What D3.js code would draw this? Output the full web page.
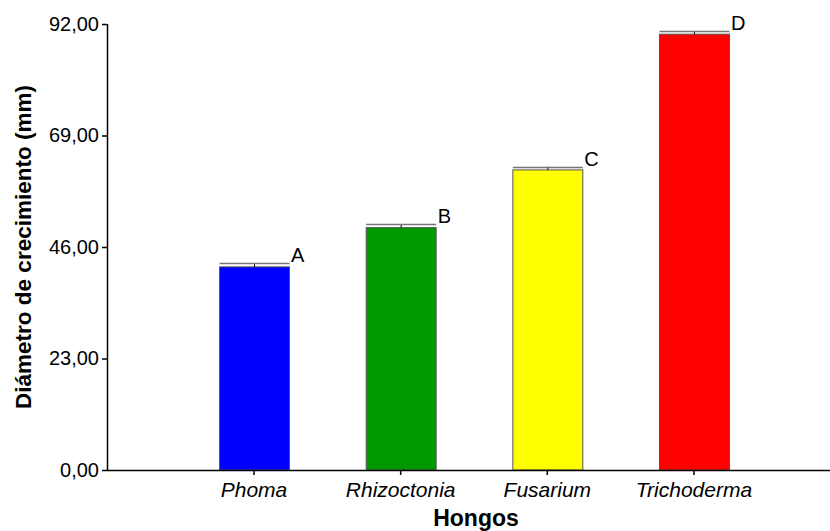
<!DOCTYPE html>
<html>
<head>
<meta charset="utf-8">
<title>Hongos</title>
<style>
  body { margin: 0; background: #fff; }
  text { font-family: "Liberation Sans", Arial, sans-serif; }
</style>
</head>
<body>
<div id="plot"></div>
<script src="https://cdn.jsdelivr.net/npm/d3@7"></script>
<script>
    // datos
    let hongos = ['Phoma', 'Rhizoctonia', 'Fusarium', 'Trichoderma'];
    let medias = [41.9, 50.0, 61.9, 89.9];
    let errores = [0.7, 0.7, 0.7, 0.6];
    let letras = ['A', 'B', 'C', 'D'];
    let colores = ['#0000ff', '#009900', '#ffff00', '#ff0000'];
    let yTicks = [0, 23, 46, 69, 92];

    let svgWidth = 830;
    let svgHeight = 531;
    let margin = {top: 24, right: 0, bottom: 61, left: 107};
    let height = svgHeight - margin.top - margin.bottom;

    function translate(x, y) {
      return 'translate(' + x + ',' + y + ')';
    }

    let svg = d3.select('#plot')
      .append('svg')
        .attr('width', svgWidth)
        .attr('height', svgHeight)
      .append('g')
        .attr('transform', translate(margin.left, margin.top));

    let x = d3.scaleBand()
      .domain(hongos)
      .range([0, 734])
      .paddingInner(0.523)
      .paddingOuter(0.764);

    let y = d3.scaleLinear()
      .domain([0, 92])
      .range([height, 0]);

    let fmt = d => d.toFixed(2).replace('.', ',');

    // barras
    svg.selectAll('rect.bar')
      .data(hongos)
      .enter()
        .append('rect')
        .attr('class', 'bar')
        .attr('x', d => x(d) + 0.5)
        .attr('width', x.bandwidth())
        .attr('y', (d, i) => y(medias[i]))
        .attr('height', (d, i) => height - y(medias[i]))
        .style('fill', (d, i) => colores[i])
        .style('stroke', '#555')
        .style('stroke-width', 1);

    // barras de error
    svg.selectAll('line.err')
      .data(hongos)
      .enter()
        .append('line')
        .attr('class', 'err')
        .attr('x1', d => x(d) + x.bandwidth() / 2 + 0.5)
        .attr('x2', d => x(d) + x.bandwidth() / 2 + 0.5)
        .attr('y1', (d, i) => y(medias[i]))
        .attr('y2', (d, i) => y(medias[i] + errores[i]))
        .style('stroke', '#000');

    svg.selectAll('line.cap')
      .data(hongos)
      .enter()
        .append('line')
        .attr('class', 'cap')
        .attr('x1', d => x(d) + 0.5)
        .attr('x2', d => x(d) + x.bandwidth() + 0.5)
        .attr('y1', (d, i) => Math.round(y(medias[i] + errores[i])) + 0.5)
        .attr('y2', (d, i) => Math.round(y(medias[i] + errores[i])) + 0.5)
        .style('stroke', '#777')
        .style('stroke-width', 1.5);

    // letras de significancia
    svg.selectAll('text.letra')
      .data(hongos)
      .enter()
        .append('text')
        .attr('class', 'letra')
        .attr('x', d => x(d) + x.bandwidth() + 2)
        .attr('y', (d, i) => y(medias[i] + errores[i]) - 1)
        .style('font-size', '20px')
        .text((d, i) => letras[i]);

    // ejes
    let yAxis = d3.axisLeft(y)
      .tickValues(yTicks)
      .tickFormat(fmt)
      .tickSize(5)
      .tickPadding(3);

    let xAxis = d3.axisBottom(x)
      .tickSize(5)
      .tickPadding(7);

    let gy = svg.append('g').call(yAxis);
    gy.attr('font-size', null).attr('font-family', null);
    gy.select('.domain').attr('d', 'M0.5,0V' + (height + 0.5)).style('stroke-width', 1.5);
    gy.selectAll('.tick line').style('stroke-width', 1.5);
    gy.selectAll('.tick text')
      .style('font-size', '20px')
      .attr('fill', '#000');

    let gx = svg.append('g')
      .attr('transform', translate(0, height))
      .call(xAxis);
    gx.attr('font-size', null).attr('font-family', null);
    gx.select('.domain').attr('d', 'M0,0.5H' + (svgWidth - margin.left)).style('stroke-width', 1.5);
    gx.selectAll('.tick line').style('stroke-width', 1.5);
    gx.selectAll('.tick text')
      .style('font-size', '21px')
      .style('font-style', 'italic')
      .attr('fill', '#000');

    // títulos de ejes
    svg.append('text')
      .attr('transform', translate(-84, height / 2) + ' rotate(-90)')
      .attr('text-anchor', 'middle')
      .attr('dy', '0.35em')
      .style('font-size', '22.5px')
      .style('font-weight', 'bold')
      .text('Diámetro de crecimiento (mm)');

    svg.append('text')
      .attr('x', 369)
      .attr('y', height + 56)
      .attr('text-anchor', 'middle')
      .style('font-size', '23px')
      .style('font-weight', 'bold')
      .text('Hongos');
</script>
</body>
</html>
